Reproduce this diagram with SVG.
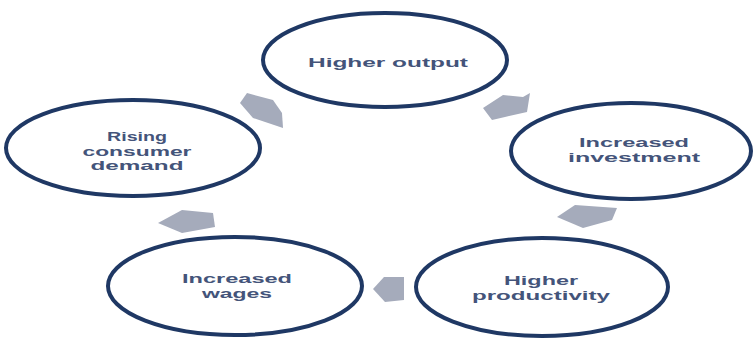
<svg xmlns="http://www.w3.org/2000/svg" width="754" height="338" viewBox="0 0 754 338">
<style>
.node ellipse{fill:#ffffff;stroke:#1f3864;stroke-width:4}
.node text{font-family:"Liberation Sans","Open Sans",sans-serif;font-weight:bold;font-size:12.5px;fill:#44547a;text-anchor:middle}
.conn polygon{fill:#a5abbb;stroke:none}
</style>
<rect width="754" height="338" fill="#ffffff"/>
<g id="connectors" class="conn">
<polygon points="240,103 247,93 273,100 282,113 283,128 253,118"/>
<polygon points="483,108 503,95 523,97 530,93 527,112 505,117 492,120"/>
<polygon points="557,217 575,205 617,208 612,220 583,228"/>
<polygon points="373,289 384,277 404,277 404,300 385,302"/>
<polygon points="158,223 182,210 213,213 215,227 182,233"/>
</g>
<g id="node-higher-output" class="node">
<ellipse cx="385" cy="60" rx="122" ry="47"/>
<text x="388" y="67" font-size="15" textLength="160" lengthAdjust="spacingAndGlyphs">Higher output</text>
</g>
<g id="node-increased-investment" class="node">
<ellipse cx="631" cy="151" rx="120" ry="48"/>
<text x="634" y="147" textLength="110" lengthAdjust="spacingAndGlyphs">Increased</text>
<text x="634" y="161.5" textLength="132" lengthAdjust="spacingAndGlyphs">investment</text>
</g>
<g id="node-higher-productivity" class="node">
<ellipse cx="542" cy="287" rx="126" ry="49"/>
<text x="541" y="285" textLength="74" lengthAdjust="spacingAndGlyphs">Higher</text>
<text x="541" y="299.5" textLength="138" lengthAdjust="spacingAndGlyphs">productivity</text>
</g>
<g id="node-increased-wages" class="node">
<ellipse cx="235" cy="286" rx="127" ry="49"/>
<text x="237" y="283" textLength="110" lengthAdjust="spacingAndGlyphs">Increased</text>
<text x="237" y="297.5" textLength="70" lengthAdjust="spacingAndGlyphs">wages</text>
</g>
<g id="node-rising-consumer-demand" class="node">
<ellipse cx="133" cy="148" rx="127" ry="48"/>
<text x="137" y="141" textLength="60" lengthAdjust="spacingAndGlyphs">Rising</text>
<text x="137" y="155.5" textLength="109" lengthAdjust="spacingAndGlyphs">consumer</text>
<text x="137" y="170" textLength="93" lengthAdjust="spacingAndGlyphs">demand</text>
</g>
</svg>
